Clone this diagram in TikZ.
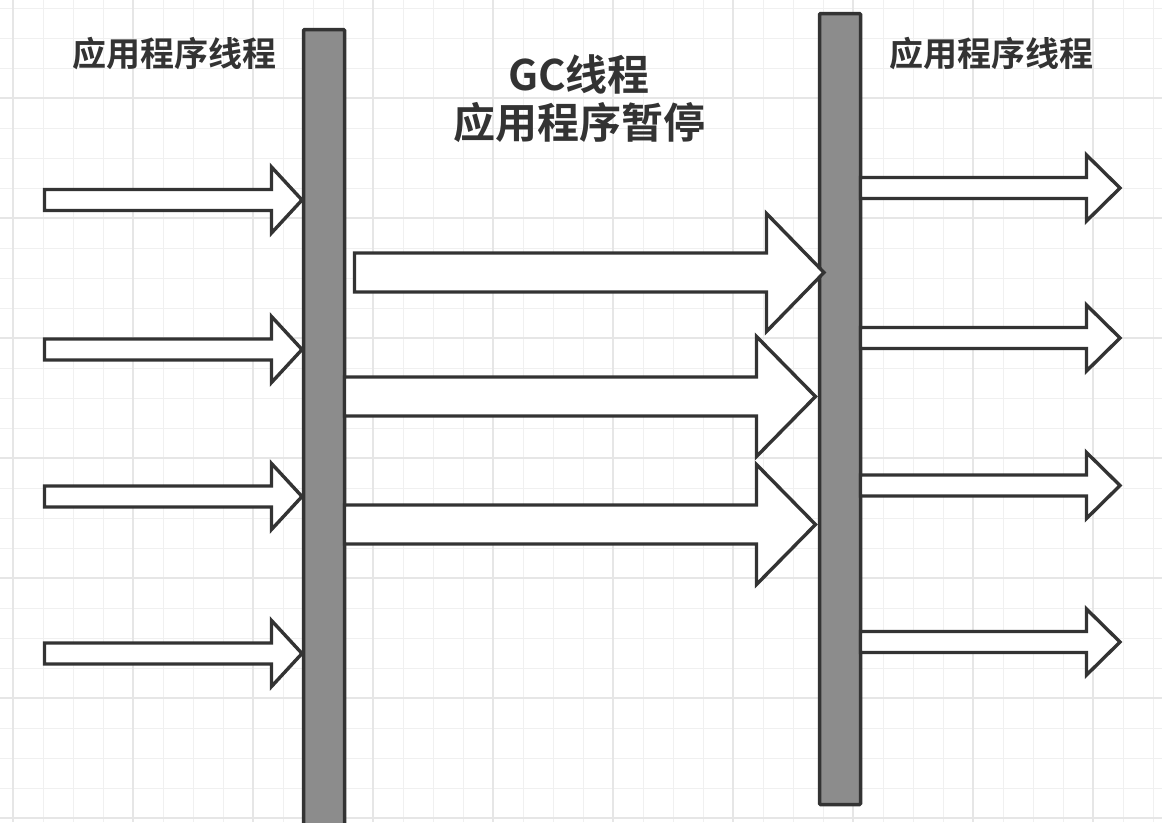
\documentclass[tikz,border=0pt]{standalone}
\usepackage{fontspec}
\newfontfamily\cjk{Noto Sans CJK SC}[BoldFont={Noto Sans CJK SC Bold}]
\definecolor{ink}{HTML}{333333}
\definecolor{barfill}{HTML}{8C8C8C}
\definecolor{gridminor}{HTML}{F0F0F0}
\definecolor{gridmajor}{HTML}{E6E6E6}
\tikzset{
  minorline/.style={draw=gridminor, line width=1pt},
  majorline/.style={draw=gridmajor, line width=2pt},
  barbox/.style={draw=ink, fill=barfill, line width=3.5pt, rounded corners=1pt},
  fatarrow/.style={draw=ink, fill=white, line width=3.4pt, line join=miter},
  title/.style={text=ink, font=\cjk\bfseries, inner sep=0pt},
}
% #1 left x, #2 head base x, #3 tip x, #4 centre y, #5 shaft half, #6 head half
\newcommand{\fatarr}[6]{%
  \draw[fatarrow] ({#1},{#4-#5}) -- ({#2},{#4-#5}) -- ({#2},{#4-#6}) -- ({#3},{#4})
    -- ({#2},{#4+#6}) -- ({#2},{#4+#5}) -- ({#1},{#4+#5}) -- cycle;}
\begin{document}
\begin{tikzpicture}[x=1pt,y=-1pt]
\useasboundingbox[fill=white] (0,0) rectangle (1162,822);
% grid
\foreach \i in {0,...,38} {
  \pgfmathsetmacro\gx{13+30*\i}
  \draw[minorline] (\gx,0) -- (\gx,822);
}
\foreach \i in {0,...,27} {
  \pgfmathsetmacro\gy{8+30*\i}
  \draw[minorline] (0,\gy) -- (1162,\gy);
}
\foreach \gx in {13,133,...,1153} {\draw[majorline] (\gx,0) -- (\gx,822);}
\foreach \gy in {98,218,...,818} {\draw[majorline] (0,\gy) -- (1162,\gy);}

% bars
\draw[barbox] (303.5,29.5) rectangle (344.5,840);
\draw[barbox] (819.5,13.5) rectangle (860.5,804.5);

% left application-thread arrows
\foreach \cy in {200,349.5,496.5,653.5} {
  \fatarr{44.5}{271.5}{302}{\cy}{10.5}{33}
}
% right application-thread arrows
\foreach \cy in {188,338,485.5,642} {
  \fatarr{860.5}{1086.5}{1120}{\cy}{10.5}{33}
}
% GC arrows
\fatarr{354.5}{766.5}{824}{272.5}{19.5}{59}
\fatarr{344.5}{756.5}{815.5}{396.5}{19.5}{60}
\fatarr{344.5}{756.5}{815.5}{524.5}{19.5}{60}

% titles
\node[title, font=\cjk\bfseries\fontsize{34}{40}\selectfont] (tl) at (174,54) {应用程序线程};
\node[title, font=\cjk\bfseries\fontsize{34}{40}\selectfont] (tr) at (991,54) {应用程序线程};
\node[title, font=\cjk\bfseries\fontsize{42}{48}\selectfont, align=center] (tm) at (579,99) {GC线程\\应用程序暂停};
\end{tikzpicture}
\end{document}
